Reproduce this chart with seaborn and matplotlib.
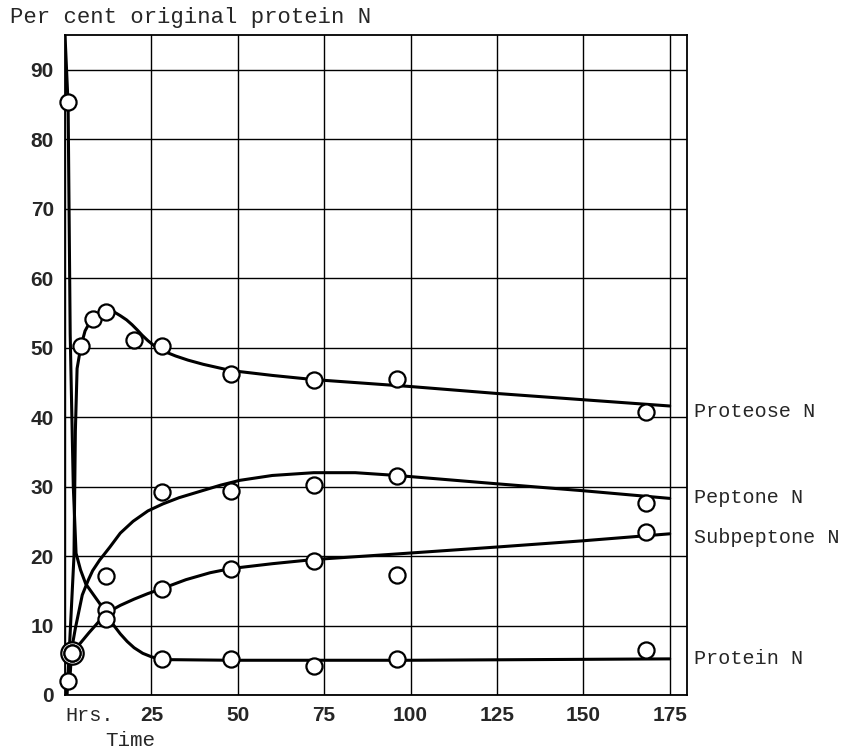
import numpy as np
import pandas as pd
import seaborn as sns
import matplotlib.pyplot as plt

# observed points (hours, per cent of original protein N)
protein_t = [1, 12, 28, 48, 72, 96, 168]
protein_v = [85.3, 10.9, 5.2, 5.2, 4.2, 5.2, 6.5]

proteose_t = [1, 4.5, 8, 12, 20, 28, 48, 72, 96, 168]
proteose_v = [2.0, 50.2, 54.1, 55.1, 51.1, 50.2, 46.2, 45.3, 45.5, 40.7]

peptone_t = [2, 12, 28, 48, 72, 96, 168]
peptone_v = [6.0, 17.1, 29.2, 29.4, 30.2, 31.5, 27.6]

subpeptone_t = [2, 12, 28, 48, 72, 96, 168]
subpeptone_v = [6.0, 12.2, 15.2, 18.1, 19.3, 17.3, 23.5]

# smoothed curves as drawn on the chart
protein_ct = [0, 0.9, 1.5, 2.4, 3.2, 4.5, 6, 8, 10, 12, 14, 16, 18, 20, 22.5, 25, 28, 48, 100, 175]
protein_cv = [95, 85, 52, 30, 20.4, 18, 16, 14.6, 13.2, 11.6, 10.1, 8.8, 7.7, 6.8, 6.0, 5.5, 5.1, 5.0, 5.0, 5.2]

proteose_ct = [0.6, 2.6, 3.0, 3.5, 4.6, 5.8, 7, 8, 10, 12.4, 14, 16, 17.8, 19.4, 21, 22.3, 24, 26, 29, 32, 35.6, 40, 48, 60, 72, 100, 125, 150, 175]
proteose_cv = [0, 20, 38, 47, 50.2, 52.4, 53.5, 54.2, 55.0, 55.4, 55.2, 54.6, 54.0, 53.3, 52.5, 51.8, 51.0, 50.2, 49.4, 48.8, 48.2, 47.6, 46.7, 46.0, 45.4, 44.4, 43.4, 42.5, 41.6]

peptone_ct = [1.5, 2, 3, 4, 5, 6.7, 8, 10, 13, 16, 19.7, 24, 28.3, 33, 39, 45, 50.6, 60, 72, 84, 96, 125, 150, 175]
peptone_cv = [3, 6.8, 9.6, 12, 14.4, 16.5, 17.9, 19.4, 21.3, 23.3, 25, 26.5, 27.5, 28.4, 29.3, 30.2, 30.9, 31.6, 32.0, 32.0, 31.6, 30.4, 29.4, 28.3]

subpeptone_ct = [2, 7, 12, 16, 20, 24, 28, 35, 42, 48, 60, 72, 96, 125, 150, 175]
subpeptone_cv = [6, 9, 11.8, 12.9, 13.8, 14.6, 15.3, 16.6, 17.6, 18.2, 18.9, 19.5, 20.3, 21.3, 22.2, 23.2]

series_names = ["Proteose N", "Peptone N", "Subpeptone N", "Protein N"]
label_y = [40.8, 28.4, 22.6, 5.2]

x_ticks = [0, 25, 50, 75, 100, 125, 150, 175]
x_labels = ["Hrs.", "25", "50", "75", "100", "125", "150", "175"]
y_ticks = [0, 10, 20, 30, 40, 50, 60, 70, 80, 90]

sns.set_style("white")
plt.rcParams['font.family'] = ['Liberation Mono', 'DejaVu Sans Mono']
num_font = ['Liberation Sans Narrow', 'Liberation Sans', 'DejaVu Sans']

fig = plt.figure(figsize=(8.47, 7.49), dpi=100)
ax = fig.add_axes([65/847, 1-695/749, (687-65)/847, (695-35)/749])

curves = [(proteose_ct, proteose_cv), (peptone_ct, peptone_cv),
          (subpeptone_ct, subpeptone_cv), (protein_ct, protein_cv)]
points = [(proteose_t, proteose_v), (peptone_t, peptone_v),
          (subpeptone_t, subpeptone_v), (protein_t, protein_v)]

for (ct, cv) in curves:
    sns.lineplot(x=ct, y=cv, ax=ax, color="black", linewidth=2.2,
                 sort=False, estimator=None, zorder=3)

# the two coinciding first points show as a double ring
sns.scatterplot(x=peptone_t[:1], y=peptone_v[:1], ax=ax, marker="o", s=260,
                facecolor="white", edgecolor="black", linewidth=1.6, zorder=4, clip_on=False)

for (pt, pv) in points:
    sns.scatterplot(x=pt, y=pv, ax=ax, marker="o", s=135, facecolor="white",
                    edgecolor="black", linewidth=1.6, zorder=5, clip_on=False)

ax.set_xlim(0, 180)
ax.set_ylim(0, 95)
ax.set_xticks(x_ticks)
ax.set_xticklabels(x_labels)
ax.set_yticks(y_ticks)
ax.tick_params(axis="both", length=0, labelsize=15, pad=8)
for lab in ax.get_xticklabels()[1:] + ax.get_yticklabels():
    lab.set_fontweight("bold")
    lab.set_family(num_font)
ax.get_xticklabels()[0].set_horizontalalignment("left")
ax.get_xticklabels()[0].set_fontsize(14.5)
ax.grid(True, color="black", linewidth=1.0)
ax.set_axisbelow(True)
for sp in ax.spines.values():
    sp.set_color("black")
    sp.set_linewidth(1.3)
ax.set_xlabel("")
ax.set_ylabel("")

for name, ly in zip(series_names, label_y):
    ax.text(182, ly, name, fontsize=14.5, va="center", ha="left", clip_on=False)

fig.text(10/847, 1-18/749, "Per cent original protein N", fontsize=16, va="center", ha="left")
fig.text(130/847, 1-740/749, "Time", fontsize=15, va="center", ha="center")

fig.savefig("out.png", dpi=100)
